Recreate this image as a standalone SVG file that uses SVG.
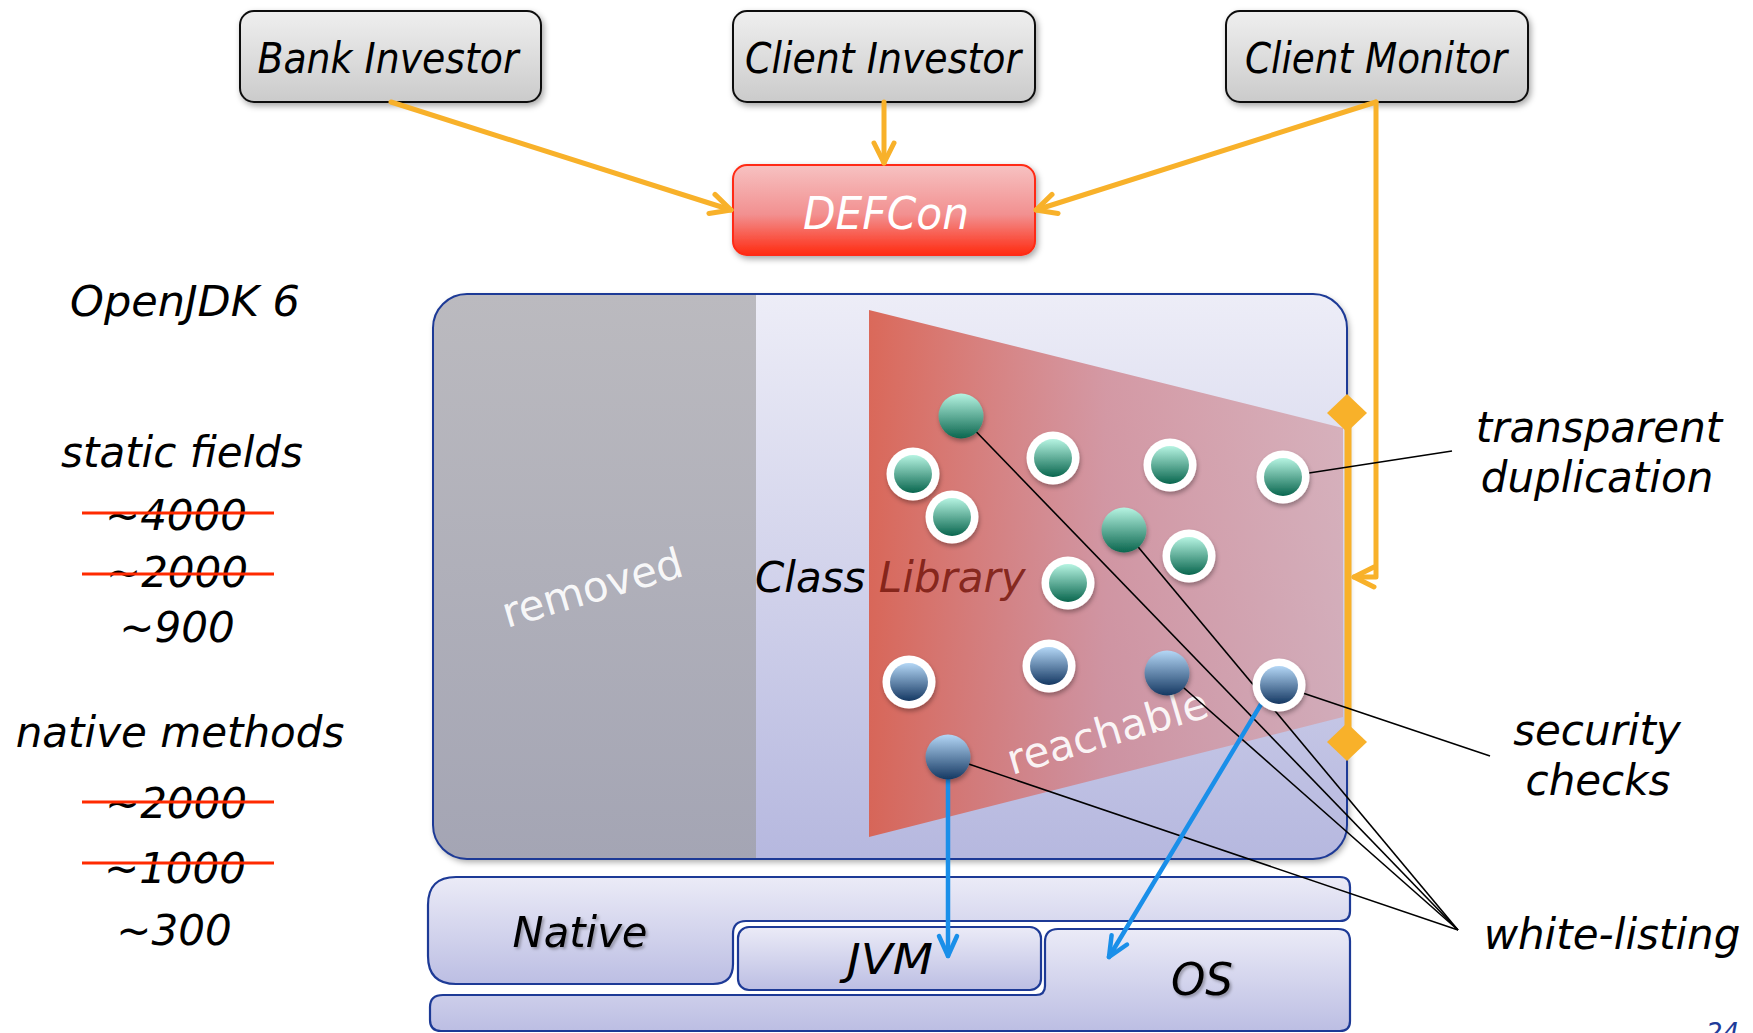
<svg xmlns="http://www.w3.org/2000/svg" width="1753" height="1033" viewBox="0 0 1753 1033">
  <style>
    .lbl { font-family: "DejaVu Sans", Verdana, sans-serif; font-style: italic; font-size: 42px; fill: #000; }
    .box-lbl { font-family: "DejaVu Sans Condensed", "DejaVu Sans", sans-serif; font-stretch: condensed; font-style: italic; font-size: 43px; fill: #000; }
    .upright { font-family: "DejaVu Sans", Verdana, sans-serif; font-size: 42px; fill: #fff; fill-opacity: 0.92; }
    .strike { stroke: #ff2a00; stroke-width: 3; }
    .orange { fill: none; stroke: #f8b12a; stroke-width: 5; stroke-linecap: round; stroke-linejoin: round; }
    .blue { fill: none; stroke: #1a8fe9; stroke-width: 4.5; stroke-linecap: round; }
    .leader { fill: none; stroke: #000; stroke-width: 1.6; }
    .strip { fill: url(#g-strip); stroke: #1d3a96; stroke-width: 2.2; }
    .actor { fill: url(#g-gray); stroke: #111; stroke-width: 2; }
  </style>
  <defs>
    <linearGradient id="g-gray" x1="0" y1="0" x2="0" y2="1">
      <stop offset="0" stop-color="#efefef"/>
      <stop offset="1" stop-color="#cbcbcb"/>
    </linearGradient>
    <linearGradient id="g-red" x1="0" y1="0" x2="0" y2="1">
      <stop offset="0" stop-color="#f7c2c2"/>
      <stop offset="0.55" stop-color="#f29090"/>
      <stop offset="1" stop-color="#ff2a10"/>
    </linearGradient>
    <linearGradient id="g-lav" x1="0" y1="0" x2="0" y2="1">
      <stop offset="0" stop-color="#ededf7"/>
      <stop offset="1" stop-color="#b6b8df"/>
    </linearGradient>
    <linearGradient id="g-strip" x1="0" y1="0" x2="0" y2="1">
      <stop offset="0" stop-color="#ebebf7"/>
      <stop offset="1" stop-color="#bcbee3"/>
    </linearGradient>
    <linearGradient id="g-removed" x1="0" y1="0" x2="0" y2="1">
      <stop offset="0" stop-color="#bbbabf"/>
      <stop offset="1" stop-color="#a4a5b4"/>
    </linearGradient>
    <linearGradient id="g-trap" x1="0" y1="0" x2="1" y2="0">
      <stop offset="0" stop-color="#d95f4e" stop-opacity="0.93"/>
      <stop offset="0.5" stop-color="#d08893" stop-opacity="0.82"/>
      <stop offset="1" stop-color="#d4a6b0" stop-opacity="0.82"/>
    </linearGradient>
    <linearGradient id="g-teal" x1="0" y1="0" x2="0" y2="1">
      <stop offset="0" stop-color="#b6f4e2"/>
      <stop offset="1" stop-color="#0a664e"/>
    </linearGradient>
    <linearGradient id="g-blue" x1="0" y1="0" x2="0" y2="1">
      <stop offset="0" stop-color="#b4d7f6"/>
      <stop offset="1" stop-color="#153862"/>
    </linearGradient>
    <filter id="shadow" x="-10%" y="-10%" width="130%" height="140%">
      <feDropShadow dx="2" dy="3" stdDeviation="3" flood-color="#000" flood-opacity="0.35"/>
    </filter>
    <filter id="dot-shadow" x="-30%" y="-30%" width="160%" height="170%">
      <feDropShadow dx="1" dy="3" stdDeviation="2" flood-color="#000" flood-opacity="0.3"/>
    </filter>
    <filter id="text-shadow" x="-10%" y="-20%" width="130%" height="150%">
      <feDropShadow dx="2" dy="2" stdDeviation="1.5" flood-color="#000" flood-opacity="0.3"/>
    </filter>
    <clipPath id="clip-box">
      <rect x="433" y="294" width="914" height="565" rx="34"/>
    </clipPath>
    <marker id="arrow-orange" markerUnits="userSpaceOnUse" viewBox="0 0 26 26" markerWidth="26" markerHeight="26" refX="23" refY="13" orient="auto">
      <path d="M3,3 L23,13 L3,23" fill="none" stroke="#f8b12a" stroke-width="5" stroke-linecap="round" stroke-linejoin="round"/>
    </marker>
    <marker id="arrow-blue" markerUnits="userSpaceOnUse" viewBox="0 0 26 26" markerWidth="26" markerHeight="26" refX="23" refY="13" orient="auto">
      <path d="M3,4 L23,13 L3,22" fill="none" stroke="#1a8fe9" stroke-width="4.5" stroke-linecap="round" stroke-linejoin="round"/>
    </marker>
    <g id="teal-ring"><circle r="26.5" fill="#fff"/><circle r="19" fill="url(#g-teal)"/></g>
    <g id="teal-solid"><circle r="22.5" fill="url(#g-teal)"/></g>
    <g id="blue-ring"><circle r="26.5" fill="#fff"/><circle r="19" fill="url(#g-blue)"/></g>
    <g id="blue-solid"><circle r="22.5" fill="url(#g-blue)"/></g>
  </defs>

  <rect width="1753" height="1033" fill="#fff"/>

  <!-- left column: counts -->
  <g id="counts" class="lbl">
    <text x="185" y="316" style="font-size:43px" text-anchor="middle">OpenJDK 6</text>
    <text x="182" y="467" text-anchor="middle">static fields</text>
    <text x="176" y="530" text-anchor="middle">~4000</text>
    <text x="177" y="587" text-anchor="middle">~2000</text>
    <text x="177" y="642" text-anchor="middle">~900</text>
    <text x="180" y="747" text-anchor="middle">native methods</text>
    <text x="176" y="818" text-anchor="middle">~2000</text>
    <text x="175" y="883" text-anchor="middle">~1000</text>
    <text x="174" y="945" text-anchor="middle">~300</text>
    <line class="strike" x1="82" y1="513" x2="274" y2="513"/>
    <line class="strike" x1="82" y1="574" x2="274" y2="574"/>
    <line class="strike" x1="82" y1="802" x2="274" y2="802"/>
    <line class="strike" x1="82" y1="863" x2="274" y2="863"/>
  </g>

  <!-- actors -->
  <g id="bank-investor">
    <rect class="actor" x="240" y="11" width="301" height="91" rx="14" filter="url(#shadow)"/>
    <text class="box-lbl" x="388" y="73" text-anchor="middle" textLength="261" lengthAdjust="spacingAndGlyphs">Bank Investor</text>
  </g>
  <g id="client-investor">
    <rect class="actor" x="733" y="11" width="302" height="91" rx="14" filter="url(#shadow)"/>
    <text class="box-lbl" x="883" y="73" text-anchor="middle" textLength="276" lengthAdjust="spacingAndGlyphs">Client Investor</text>
  </g>
  <g id="client-monitor">
    <rect class="actor" x="1226" y="11" width="302" height="91" rx="14" filter="url(#shadow)"/>
    <text class="box-lbl" x="1376" y="73" text-anchor="middle" textLength="262" lengthAdjust="spacingAndGlyphs">Client Monitor</text>
  </g>
  <g id="defcon">
    <rect x="733" y="165" width="302" height="90" rx="14" fill="url(#g-red)" stroke="#ff2a12" stroke-width="2" filter="url(#shadow)"/>
    <text class="box-lbl" x="886" y="229" text-anchor="middle" style="fill:#fff;font-size:44px" textLength="166" lengthAdjust="spacingAndGlyphs">DEFCon</text>
  </g>

  <!-- class library container -->
  <g id="class-library">
    <rect x="433" y="294" width="914" height="565" rx="34" fill="url(#g-lav)" filter="url(#shadow)"/>
    <rect x="433" y="294" width="323" height="565" fill="url(#g-removed)" clip-path="url(#clip-box)"/>
    <rect x="433" y="294" width="914" height="565" rx="34" fill="none" stroke="#1d3a96" stroke-width="2"/>
    <text class="upright" transform="translate(507,628) rotate(-16.4)">removed</text>
    <polygon points="869,310 1343,428 1343,717 869,837" fill="url(#g-trap)"/>
    <text class="lbl" x="755" y="592">Class <tspan fill="#7b1c12" fill-opacity="0.9">Library</tspan></text>
    <text class="upright" transform="translate(1012,775) rotate(-16.5)">reachable</text>
  </g>

  <!-- native layers -->
  <g id="os">
    <path class="strip" d="M443,995 H1036 Q1045,995 1045,986 V942 Q1045,929 1058,929 H1338 Q1350,929 1350,941 V1021 Q1350,1031 1340,1031 H441 Q430,1031 430,1020 V1007 Q430,995 443,995 Z"/>
    <text class="box-lbl" x="1202" y="995" text-anchor="middle" style="font-size:44px" textLength="62" lengthAdjust="spacingAndGlyphs" filter="url(#text-shadow)">OS</text>
  </g>
  <g id="native">
    <path class="strip" d="M456,877 H1340 Q1350,877 1350,887 V911 Q1350,921 1340,921 H746 Q733,921 733,934 V964 Q733,984 713,984 H456 Q428,984 428,956 V905 Q428,877 456,877 Z"/>
    <text class="box-lbl" x="580" y="947" text-anchor="middle" style="font-size:42px" textLength="135" lengthAdjust="spacingAndGlyphs" filter="url(#text-shadow)">Native</text>
  </g>
  <g id="jvm">
    <rect class="strip" x="738" y="927" width="303" height="63" rx="11"/>
    <text class="box-lbl" x="890" y="974" text-anchor="middle" style="font-size:42px" textLength="86" lengthAdjust="spacingAndGlyphs">JVM</text>
  </g>

  <!-- connectors -->
  <g id="connectors">
    <path class="orange" d="M391,102 L731,210" marker-end="url(#arrow-orange)"/>
    <path class="orange" d="M884,102 V163" marker-end="url(#arrow-orange)"/>
    <path class="orange" d="M1376,102 L1036,210" marker-end="url(#arrow-orange)"/>
    <path class="orange" d="M1376,102 V577 H1354" marker-end="url(#arrow-orange)"/>
    <line x1="1348" y1="413" x2="1348" y2="742" stroke="#f8b12a" stroke-width="7"/>
    <polygon points="1347,394 1367,413 1347,432 1327,413" fill="#f8b12a"/>
    <polygon points="1347,723 1367,742 1347,761 1327,742" fill="#f8b12a"/>
    <path class="leader" d="M961,416 L1458,930"/>
    <path class="leader" d="M1124,530 L1458,930"/>
    <path class="leader" d="M1167,673 L1458,930"/>
    <path class="leader" d="M948,757 L1458,930"/>
    <path class="leader" d="M1283,477 L1452,451"/>
    <path class="leader" d="M1279,685 L1490,756"/>
    <path class="blue" d="M948,770 V956" marker-end="url(#arrow-blue)"/>
    <path class="blue" d="M1275,681 L1109,957" marker-end="url(#arrow-blue)"/>
  </g>

  <!-- library members -->
  <g id="members" filter="url(#dot-shadow)">
    <use id="m1" href="#teal-solid" x="961" y="416"/>
    <use id="m2" href="#teal-solid" x="1124" y="530"/>
    <use id="m3" href="#teal-ring" x="913" y="474"/>
    <use id="m4" href="#teal-ring" x="952" y="517"/>
    <use id="m5" href="#teal-ring" x="1053" y="458"/>
    <use id="m6" href="#teal-ring" x="1170" y="465"/>
    <use id="m7" href="#teal-ring" x="1283" y="477"/>
    <use id="m8" href="#teal-ring" x="1189" y="556"/>
    <use id="m9" href="#teal-ring" x="1068" y="583"/>
    <use id="m10" href="#blue-ring" x="909" y="682"/>
    <use id="m11" href="#blue-ring" x="1049" y="666"/>
    <use id="m12" href="#blue-solid" x="1167" y="673"/>
    <use id="m13" href="#blue-ring" x="1279" y="685"/>
    <use id="m14" href="#blue-solid" x="948" y="757"/>
  </g>

  <!-- annotations -->
  <g id="annotations" class="lbl" text-anchor="middle">
    <text x="1599" y="442">transparent</text>
    <text x="1597" y="492">duplication</text>
    <text x="1597" y="745">security</text>
    <text x="1598" y="795">checks</text>
    <text x="1612" y="949">white-listing</text>
  </g>

  <text id="page-number" x="1706" y="1042" style="font-family:'DejaVu Sans',sans-serif;font-style:italic;font-size:26px;fill:#1f3c9a">24</text>
</svg>
